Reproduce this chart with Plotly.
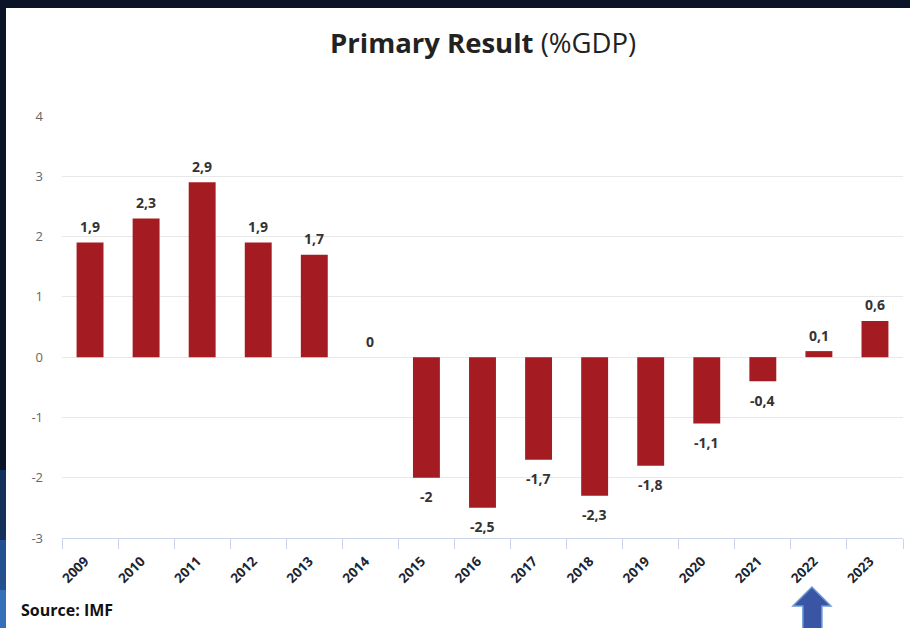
import plotly.graph_objects as go

years = ["2009", "2010", "2011", "2012", "2013", "2014", "2015", "2016",
         "2017", "2018", "2019", "2020", "2021", "2022", "2023"]
values = [1.9, 2.3, 2.9, 1.9, 1.7, 0, -2, -2.5, -1.7, -2.3, -1.8, -1.1, -0.4, 0.1, 0.6]
y_ticks = [-3, -2, -1, 0, 1, 2, 3, 4]
y_tick_labels = ["-3", "-2", "-1", "0", "1", "2", "3", "4"]
highlight_year = "2022"

W, H = 910, 628
L, R, T, B = 62, 7, 116, 90
PW, PH = W - L - R, H - T - B

BAR = "#a41c22"
FONT = "Open Sans"

fig = go.Figure()
fig.add_trace(go.Bar(
    x=years, y=values,
    marker=dict(color=BAR, line=dict(width=0)),
    width=0.48,
    hoverinfo="x+y",
))

def fmt(v):
    return ("%g" % v).replace(".", ",")

annotations = []
for i, v in enumerate(values):
    annotations.append(dict(
        x=i, y=v, xref="x", yref="y",
        text=fmt(v), showarrow=False,
        yanchor="middle",
        yshift=(-19 if v < 0 else 16),
        font=dict(family=FONT, size=14, color="#333333", weight="bold"),
    ))

# Title
annotations.append(dict(
    xref="paper", yref="paper", x=0.5, y=1 + (T - 43) / PH,
    xanchor="center", yanchor="middle", showarrow=False,
    text="<b>Primary Result</b> (%GDP)",
    font=dict(family=FONT, size=27.5, color="#222222"),
))
# Source
annotations.append(dict(
    xref="paper", yref="paper", x=(19 - L) / PW, y=-(610 - (T + PH)) / PH,
    xanchor="left", yanchor="middle", showarrow=False,
    text="<b>Source: IMF</b>",
    font=dict(family=FONT, size=16, color="#111111"),
))

def px_x(p):
    return (p - L) / PW

def px_y(p):
    return (T + PH - p) / PH

shapes = [
    dict(type="rect", xref="paper", yref="paper", x0=px_x(0), x1=px_x(W),
         y0=px_y(8), y1=px_y(0), fillcolor="#0b1326", line=dict(width=0), layer="above"),
    dict(type="rect", xref="paper", yref="paper", x0=px_x(0), x1=px_x(6),
         y0=px_y(H), y1=px_y(0), fillcolor="#0b1326", line=dict(width=0), layer="above"),
    dict(type="rect", xref="paper", yref="paper", x0=px_x(0), x1=px_x(6),
         y0=px_y(H), y1=px_y(470), fillcolor="#16305c", line=dict(width=0), layer="above"),
    dict(type="rect", xref="paper", yref="paper", x0=px_x(0), x1=px_x(6),
         y0=px_y(H), y1=px_y(540), fillcolor="#24508f", line=dict(width=0), layer="above"),
    dict(type="rect", xref="paper", yref="paper", x0=px_x(0), x1=px_x(6),
         y0=px_y(H), y1=px_y(590), fillcolor="#3670b8", line=dict(width=0), layer="above"),
    dict(type="path", xref="x", yref="paper", xsizemode="pixel", ysizemode="pixel",
         xanchor=years.index(highlight_year), yanchor=0,
         path="M -7,-49 L 12,-68 L 3,-68 L 3,-95 L -16,-95 L -16,-68 L -26,-68 Z",
         fillcolor="#3a55a4", line=dict(color="#6a9ad6", width=1.5), layer="above"),
]

fig.update_layout(
    width=W, height=H,
    margin=dict(l=L, r=R, t=T, b=B, pad=0),
    paper_bgcolor="white", plot_bgcolor="white",
    showlegend=False,
    separators=",.",
    bargap=0.52,
    font=dict(family=FONT),
    annotations=annotations,
    shapes=shapes,
    xaxis=dict(
        type="category",
        range=[-0.5, len(years) - 0.5],
        autorange=False,
        tickangle=-45,
        tickfont=dict(family=FONT, size=13.5, color="#1c2533", weight="bold"),
        showline=True, linecolor="#ccd6eb", linewidth=1,
        ticks="outside", tickson="boundaries", ticklen=10, tickcolor="#ccd6eb",
        ticklabelstandoff=9, ticklabelshift=-5,
        showgrid=False, fixedrange=True,
    ),
    yaxis=dict(
        range=[-3, 4],
        autorange=False,
        tickvals=y_ticks,
        ticktext=y_tick_labels,
        tickfont=dict(family=FONT, size=13, color="#666666"),
        showgrid=True, gridcolor="#e8e8e8", gridwidth=1,
        zeroline=True, zerolinecolor="#e8e8e8", zerolinewidth=1,
        showline=False, ticks="", ticklabelstandoff=18,
        fixedrange=True,
    ),
)

fig.write_html(
    "out.html",
    config={"displayModeBar": False},
    post_script="document.body.style.margin='0';document.body.style.overflow='hidden';",
)
